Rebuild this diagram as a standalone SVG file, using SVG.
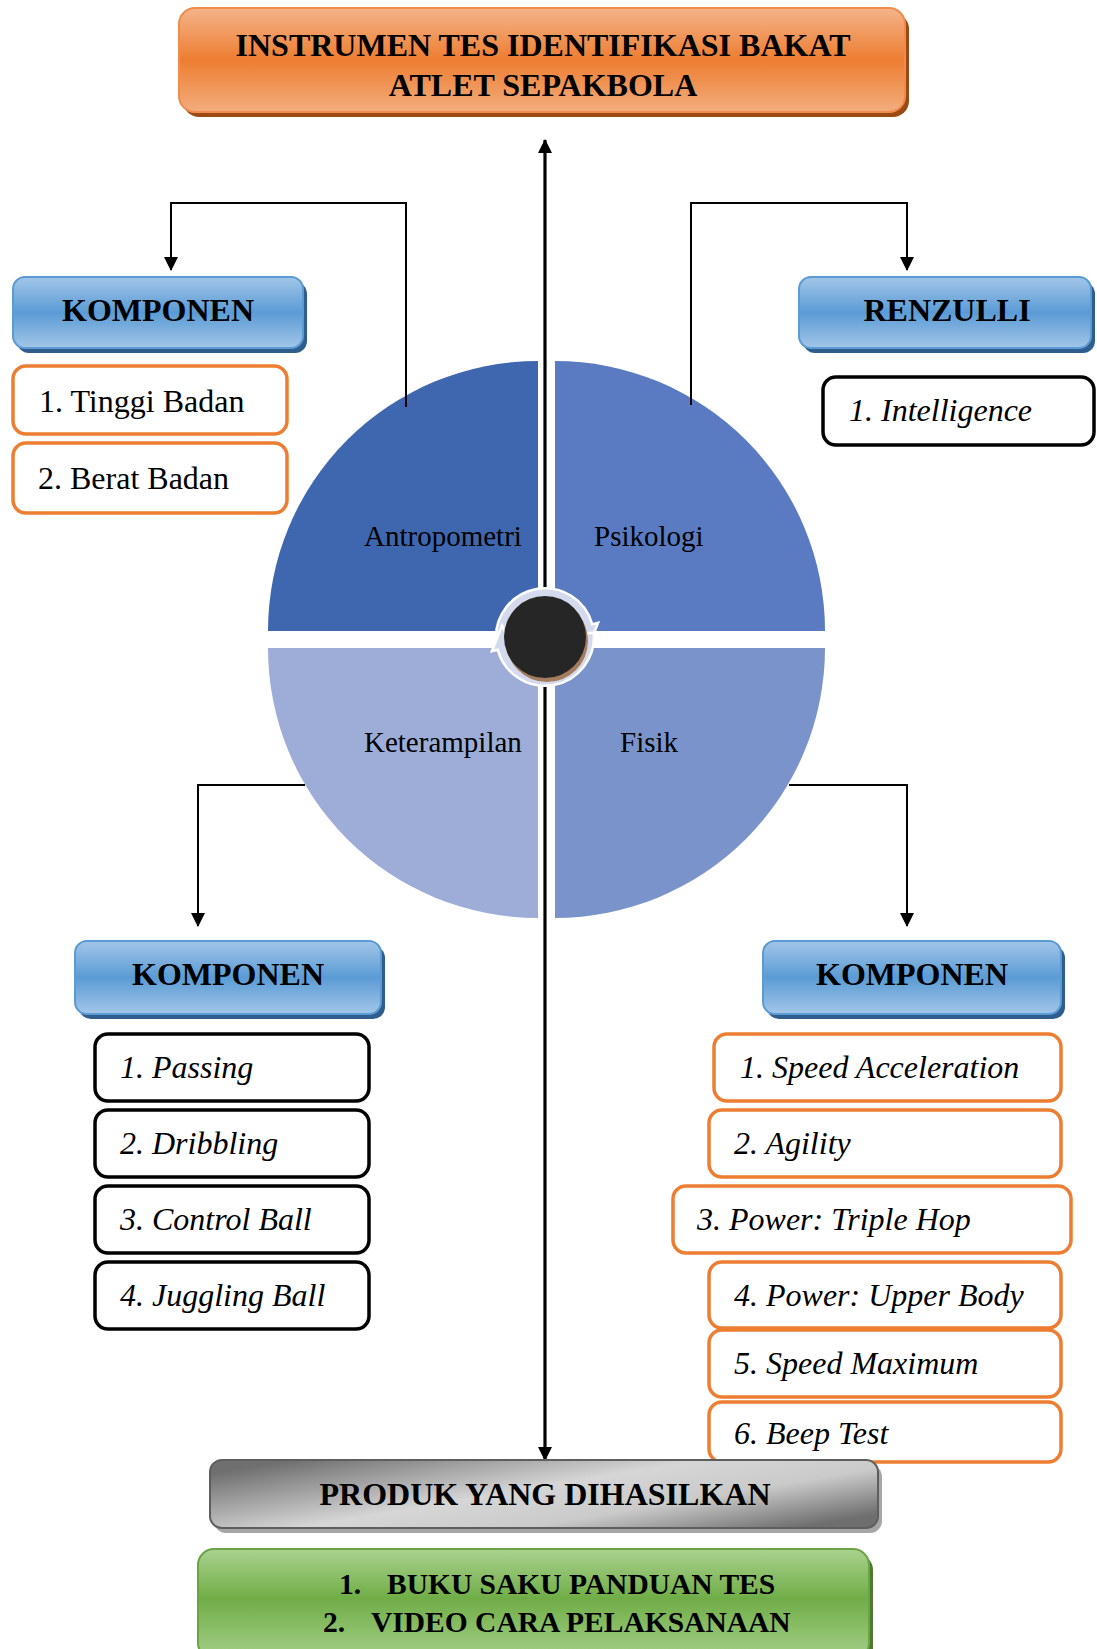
<svg xmlns="http://www.w3.org/2000/svg" width="1097" height="1649" viewBox="0 0 1097 1649">
<defs>
<style>
.hdr{font-family:"Liberation Serif","Times New Roman",serif;font-weight:bold;font-size:32px;fill:#000;text-anchor:middle}
.item{font-family:"Liberation Serif","Times New Roman",serif;font-size:32px;fill:#000}
.it{font-style:italic}
.q{font-family:"Liberation Serif","Times New Roman",serif;font-size:29px;fill:#000}
.conn{fill:none;stroke:#000;stroke-width:2}
.ob{fill:#fff;stroke:#ED7D31;stroke-width:3.5}
.kb{fill:#fff;stroke:#000;stroke-width:3.5}
.blue{fill:url(#gBlue);stroke:#5B9BD5;stroke-width:2}
.bsh{fill:#2E5D8E}
.gr{font-family:"Liberation Serif","Times New Roman",serif;font-weight:bold;font-size:29.5px;fill:#000}
</style>
<linearGradient id="gOrange" x1="0" y1="0" x2="0" y2="1">
<stop offset="0" stop-color="#F4B48A"/><stop offset="0.5" stop-color="#ED7D31"/><stop offset="1" stop-color="#F3AD7F"/>
</linearGradient>
<linearGradient id="gBlue" x1="0" y1="0" x2="0" y2="1">
<stop offset="0" stop-color="#A2C6E8"/><stop offset="0.5" stop-color="#5B9BD5"/><stop offset="1" stop-color="#A2C6E8"/>
</linearGradient>
<linearGradient id="gGrey" x1="0" y1="0.2" x2="1" y2="0.8">
<stop offset="0" stop-color="#6F6F6F"/><stop offset="0.45" stop-color="#D6D6D6"/><stop offset="0.7" stop-color="#CACACA"/><stop offset="1" stop-color="#6E6E6E"/>
</linearGradient>
<linearGradient id="gGreen" x1="0" y1="0" x2="0" y2="1">
<stop offset="0" stop-color="#AAD28F"/><stop offset="0.45" stop-color="#70AD47"/><stop offset="1" stop-color="#A5CF88"/>
</linearGradient>
<marker id="ah" viewBox="0 0 14 14" refX="13" refY="7" markerWidth="14" markerHeight="14" markerUnits="userSpaceOnUse" orient="auto-start-reverse">
<path d="M0,0 L14,7 L0,14 Z" fill="#000"/>
</marker>
</defs>
<rect width="1097" height="1649" fill="#fff"/>

<g id="cycle">
<path d="M538,631 L268,631 A270,270 0 0 1 538,361 Z" fill="#3F67B0"/>
<path d="M555,631 L555,361 A270,270 0 0 1 825,631 Z" fill="#5A7BC2"/>
<path d="M555,648 L825,648 A270,270 0 0 1 555,918 Z" fill="#7A94CB"/>
<path d="M538,648 L538,918 A270,270 0 0 1 268,648 Z" fill="#9DADD8"/>
<text class="q" x="364" y="546">Antropometri</text>
<text class="q" x="594" y="546">Psikologi</text>
<text class="q" x="364" y="752">Keterampilan</text>
<text class="q" x="620" y="752">Fisik</text>
</g>

<g id="connectors">
<path class="conn" d="M406,407 L406,203 L171,203 L171,270" marker-end="url(#ah)"/>
<path class="conn" d="M691,405 L691,203 L907,203 L907,270" marker-end="url(#ah)"/>
<path class="conn" d="M305,785 L198,785 L198,926" marker-end="url(#ah)"/>
<path class="conn" d="M789,785 L907,785 L907,926" marker-end="url(#ah)"/>
<path d="M545,140 L545,1460" fill="none" stroke="#000" stroke-width="3.2" marker-start="url(#ah)" marker-end="url(#ah)"/>
</g>

<g id="center">
<path d="M496.2,641.3 A49,49 0 0 1 592.3,624.3 L598.1,622.8 L588,648.5 L577.8,628.2 L583.6,626.6 A40,40 0 0 0 505.2,640.5 Z" fill="#D3DAEE" stroke="#fff" stroke-width="2.5"/>
<path d="M496.2,641.3 A49,49 0 0 1 592.3,624.3 L598.1,622.8 L588,648.5 L577.8,628.2 L583.6,626.6 A40,40 0 0 0 505.2,640.5 Z" fill="#D3DAEE" stroke="#fff" stroke-width="2.5" transform="rotate(180 545 637)"/>
<circle cx="547" cy="641" r="41" fill="#A47C5E"/>
<circle cx="545" cy="637" r="41" fill="#262626"/>
</g>

<g id="title">
<rect x="183" y="13" width="726" height="104" rx="16" fill="#9C4A13"/>
<rect x="179" y="8" width="726" height="104" rx="16" fill="url(#gOrange)" stroke="#F08C4C" stroke-width="2"/>
<text class="hdr" x="543" y="56">INSTRUMEN TES IDENTIFIKASI BAKAT</text>
<text class="hdr" x="543" y="96">ATLET SEPAKBOLA</text>
</g>

<g id="komponen-antropometri">
<rect class="bsh" x="17" y="282" width="290" height="71" rx="12"/>
<rect class="blue" x="13" y="277" width="290" height="71" rx="12"/>
<text class="hdr" x="158" y="321">KOMPONEN</text>
</g>
<g id="tinggi-badan">
<rect class="ob" x="13" y="366" width="274" height="68" rx="13"/>
<text class="item" x="39" y="412">1. Tinggi Badan</text>
</g>
<g id="berat-badan">
<rect class="ob" x="13" y="443" width="274" height="70" rx="13"/>
<text class="item" x="38" y="489">2. Berat Badan</text>
</g>

<g id="renzulli">
<rect class="bsh" x="803" y="282" width="292" height="71" rx="12"/>
<rect class="blue" x="799" y="277" width="292" height="71" rx="12"/>
<text class="hdr" x="947" y="321">RENZULLI</text>
</g>
<g id="intelligence">
<rect class="kb" x="823" y="377" width="271" height="68" rx="13"/>
<text class="item it" x="849" y="421">1. Intelligence</text>
</g>

<g id="komponen-keterampilan">
<rect class="bsh" x="79" y="946" width="306" height="73" rx="12"/>
<rect class="blue" x="75" y="941" width="306" height="73" rx="12"/>
<text class="hdr" x="228" y="985">KOMPONEN</text>
</g>
<g id="passing"><rect class="kb" x="95" y="1034" width="274" height="67" rx="13"/><text class="item it" x="120" y="1078">1. Passing</text></g>
<g id="dribbling"><rect class="kb" x="95" y="1110" width="274" height="67" rx="13"/><text class="item it" x="120" y="1154">2. Dribbling</text></g>
<g id="control-ball"><rect class="kb" x="95" y="1186" width="274" height="67" rx="13"/><text class="item it" x="120" y="1230">3. Control Ball</text></g>
<g id="juggling-ball"><rect class="kb" x="95" y="1262" width="274" height="67" rx="13"/><text class="item it" x="120" y="1306">4. Juggling Ball</text></g>

<g id="komponen-fisik">
<rect class="bsh" x="767" y="946" width="298" height="73" rx="12"/>
<rect class="blue" x="763" y="941" width="298" height="73" rx="12"/>
<text class="hdr" x="912" y="985">KOMPONEN</text>
</g>
<g id="speed-acceleration"><rect class="ob" x="714" y="1034" width="347" height="67" rx="13"/><text class="item it" x="740" y="1078">1. Speed Acceleration</text></g>
<g id="agility"><rect class="ob" x="709" y="1110" width="352" height="67" rx="13"/><text class="item it" x="734" y="1154">2. Agility</text></g>
<g id="triple-hop"><rect class="ob" x="673" y="1186" width="398" height="67" rx="13"/><text class="item it" x="697" y="1230">3. Power: Triple Hop</text></g>
<g id="upper-body"><rect class="ob" x="709" y="1262" width="352" height="66" rx="13"/><text class="item it" x="734" y="1306">4. Power: Upper Body</text></g>
<g id="speed-maximum"><rect class="ob" x="709" y="1330" width="352" height="67" rx="13"/><text class="item it" x="734" y="1374">5. Speed Maximum</text></g>
<g id="beep-test"><rect class="ob" x="709" y="1402" width="352" height="60" rx="13"/><text class="item it" x="734" y="1444">6. Beep Test</text></g>

<g id="produk">
<rect x="214" y="1465" width="668" height="68" rx="12" fill="#A6A6A6"/>
<rect x="210" y="1460" width="668" height="68" rx="12" fill="url(#gGrey)" stroke="#5E5E5E" stroke-width="2"/>
<text class="hdr" x="545" y="1505">PRODUK YANG DIHASILKAN</text>
</g>

<g id="hasil">
<rect x="202" y="1554" width="671" height="110" rx="16" fill="#4E7A31"/>
<rect x="198" y="1549" width="671" height="110" rx="16" fill="url(#gGreen)" stroke="#6AA443" stroke-width="2"/>
<text class="gr" x="339" y="1594">1.</text>
<text class="gr" x="387" y="1594">BUKU SAKU PANDUAN TES</text>
<text class="gr" x="323" y="1632">2.</text>
<text class="gr" x="371" y="1632">VIDEO CARA PELAKSANAAN</text>
</g>
</svg>
